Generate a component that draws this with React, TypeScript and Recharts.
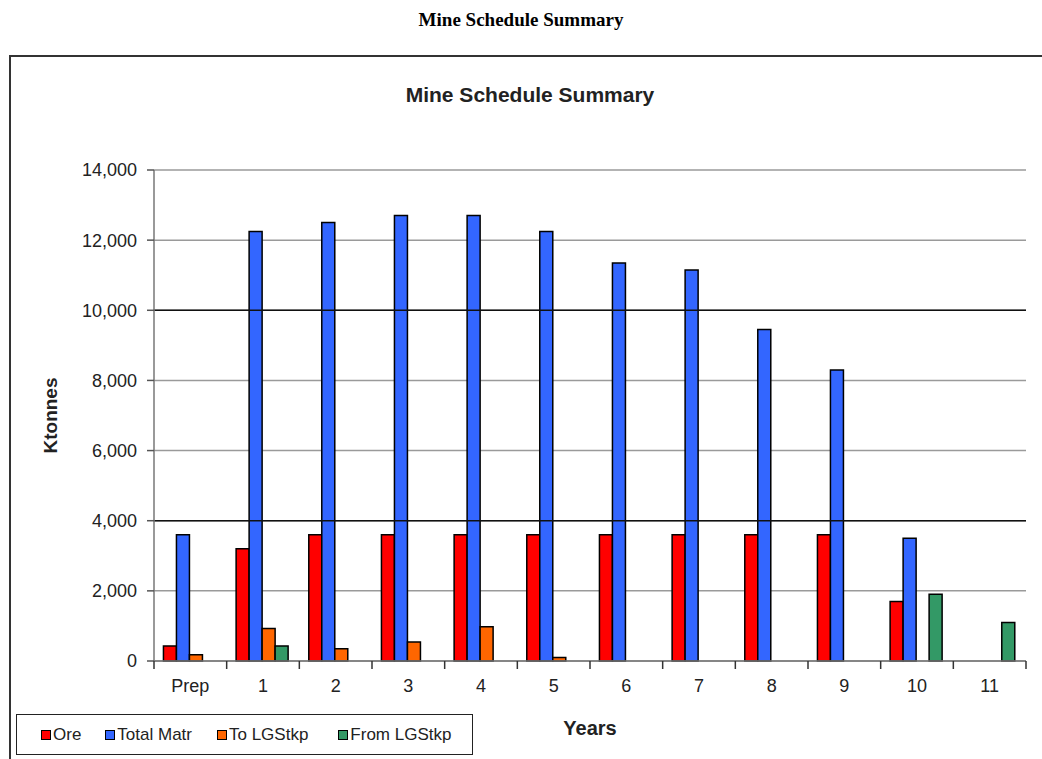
import React from 'react';
import { BarChart, Bar, XAxis, YAxis, CartesianGrid, Legend, ReferenceLine } from 'recharts';

const categories = ['Prep', '1', '2', '3', '4', '5', '6', '7', '8', '9', '10', '11'];
const ore = [430, 3200, 3600, 3600, 3600, 3600, 3600, 3600, 3600, 3600, 1700, 0];
const totalMatr = [3600, 12250, 12500, 12700, 12700, 12250, 11350, 11150, 9450, 8300, 3500, 0];
const toLGStkp = [180, 930, 350, 540, 980, 100, 0, 0, 0, 0, 0, 0];
const fromLGStkp = [0, 430, 0, 0, 0, 0, 0, 0, 0, 0, 1900, 1100];
const yTicks = [0, 2000, 4000, 6000, 8000, 10000, 12000, 14000];

const seriesNames = ['Ore', 'Total Matr', 'To LGStkp', 'From LGStkp'];
const seriesColors = ['#FF0000', '#3366FF', '#FF6600', '#339966'];

const data = categories.map((c, i) => ({
  year: c,
  ore: ore[i],
  total: totalMatr[i],
  to: toLGStkp[i],
  from: fromLGStkp[i],
}));

const FONT = '"Liberation Sans", Arial, sans-serif';
const PLOT_W = 872;
const HALF = PLOT_W / categories.length / 2;
const legendGaps = [24, 25, 30, 0];

const XTick = (props: any) => {
  const { x, y, payload } = props;
  const isLast = payload.value === categories[categories.length - 1];
  return (
    <g>
      <line x1={x - HALF} y1={y - 8} x2={x - HALF} y2={y} stroke="#333" strokeWidth={1.5} />
      {isLast && <line x1={x + HALF} y1={y - 8} x2={x + HALF} y2={y} stroke="#333" strokeWidth={1.5} />}
      <text x={x} y={y + 23} textAnchor="middle" fontFamily={FONT} fontSize={18} fill="#222">
        {payload.value}
      </text>
    </g>
  );
};

const LegendContent = () => (
  <div
    style={{
      border: '1.5px solid #222',
      width: 457,
      height: 41,
      boxSizing: 'border-box',
      display: 'flex',
      alignItems: 'center',
      paddingLeft: 24,
      fontFamily: FONT,
      fontSize: 17,
      color: '#222',
      background: '#fff',
      whiteSpace: 'nowrap',
    }}
  >
    {seriesNames.map((n, i) => (
      <span key={n} style={{ display: 'flex', alignItems: 'center', marginRight: legendGaps[i], flexShrink: 0, whiteSpace: 'nowrap' }}>
        <span
          style={{
            display: 'inline-block',
            width: 8,
            height: 8,
            background: seriesColors[i],
            border: '1px solid #000',
            marginRight: 2,
            flexShrink: 0,
          }}
        />
        {n}
      </span>
    ))}
  </div>
);

export default function App() {
  return (
    <div style={{ position: 'absolute', left: 0, top: 0, width: 1042, height: 759, background: '#fff', overflow: 'hidden' }}>
      <div
        style={{
          position: 'absolute',
          top: 8,
          left: 0,
          width: 1042,
          textAlign: 'center',
          fontFamily: '"Liberation Serif", "Times New Roman", serif',
          fontWeight: 'bold',
          fontSize: 19,
          lineHeight: '24px',
          color: '#000',
        }}
      >
        Mine Schedule Summary
      </div>
      <div
        style={{
          position: 'absolute',
          left: 9,
          top: 55,
          width: 1045,
          height: 760,
          border: '2px solid #333',
          boxSizing: 'border-box',
        }}
      />
      <div
        style={{
          position: 'absolute',
          top: 82,
          left: 20,
          width: 1020,
          textAlign: 'center',
          fontFamily: FONT,
          fontWeight: 'bold',
          fontSize: 21,
          lineHeight: '26px',
          color: '#222',
        }}
      >
        Mine Schedule Summary
      </div>
      <div style={{ position: 'absolute', left: 0, top: 0 }}>
        <BarChart
          width={1042}
          height={759}
          data={data}
          margin={{ top: 170, right: 16, left: 0, bottom: 68 }}
          barGap={0}
          barCategoryGap="13%"
        >
          <CartesianGrid vertical={false} stroke="#9a9a9a" strokeWidth={1.5} />
          <ReferenceLine y={4000} stroke="#111" strokeWidth={1.5} />
          <ReferenceLine y={10000} stroke="#111" strokeWidth={1.5} />
          <XAxis
            dataKey="year"
            height={30}
            tickLine={false}
            axisLine={{ stroke: '#777', strokeWidth: 1.5 }}
            tick={<XTick />}
            interval={0}
            label={{ value: 'Years', position: 'bottom', offset: 30, style: { fontFamily: FONT, fontWeight: 'bold', fontSize: 20, fill: '#222' } }}
          />
          <YAxis
            width={154}
            domain={[0, 14000]}
            ticks={yTicks}
            interval={0}
            tickFormatter={(v: number) => v.toLocaleString('en-US')}
            tick={{ fontFamily: FONT, fontSize: 18, fill: '#222' }}
            tickLine={{ stroke: '#555', strokeWidth: 1.5 }}
            tickSize={7}
            tickMargin={10}
            axisLine={{ stroke: '#777', strokeWidth: 1.5 }}
            label={{ value: 'Ktonnes', angle: -90, position: 'insideLeft', offset: 50, style: { fontFamily: FONT, fontWeight: 'bold', fontSize: 19, fill: '#222', textAnchor: 'middle' } }}
          />
          <YAxis
            yAxisId="right"
            orientation="right"
            width={0}
            tick={false}
            tickLine={false}
            axisLine={{ stroke: '#999', strokeWidth: 1.5 }}
          />
          <Legend
            layout="horizontal"
            verticalAlign="middle"
            align="center"
            content={<LegendContent />}
            wrapperStyle={{ left: 16, top: 714, width: 457, height: 41 }}
          />
          <Bar dataKey="ore" name="Ore" fill={seriesColors[0]} stroke="#000" strokeWidth={1.5} isAnimationActive={false} />
          <Bar dataKey="total" name="Total Matr" fill={seriesColors[1]} stroke="#000" strokeWidth={1.5} isAnimationActive={false} />
          <Bar dataKey="to" name="To LGStkp" fill={seriesColors[2]} stroke="#000" strokeWidth={1.5} isAnimationActive={false} />
          <Bar dataKey="from" name="From LGStkp" fill={seriesColors[3]} stroke="#000" strokeWidth={1.5} isAnimationActive={false} />
        </BarChart>
      </div>
    </div>
  );
}
